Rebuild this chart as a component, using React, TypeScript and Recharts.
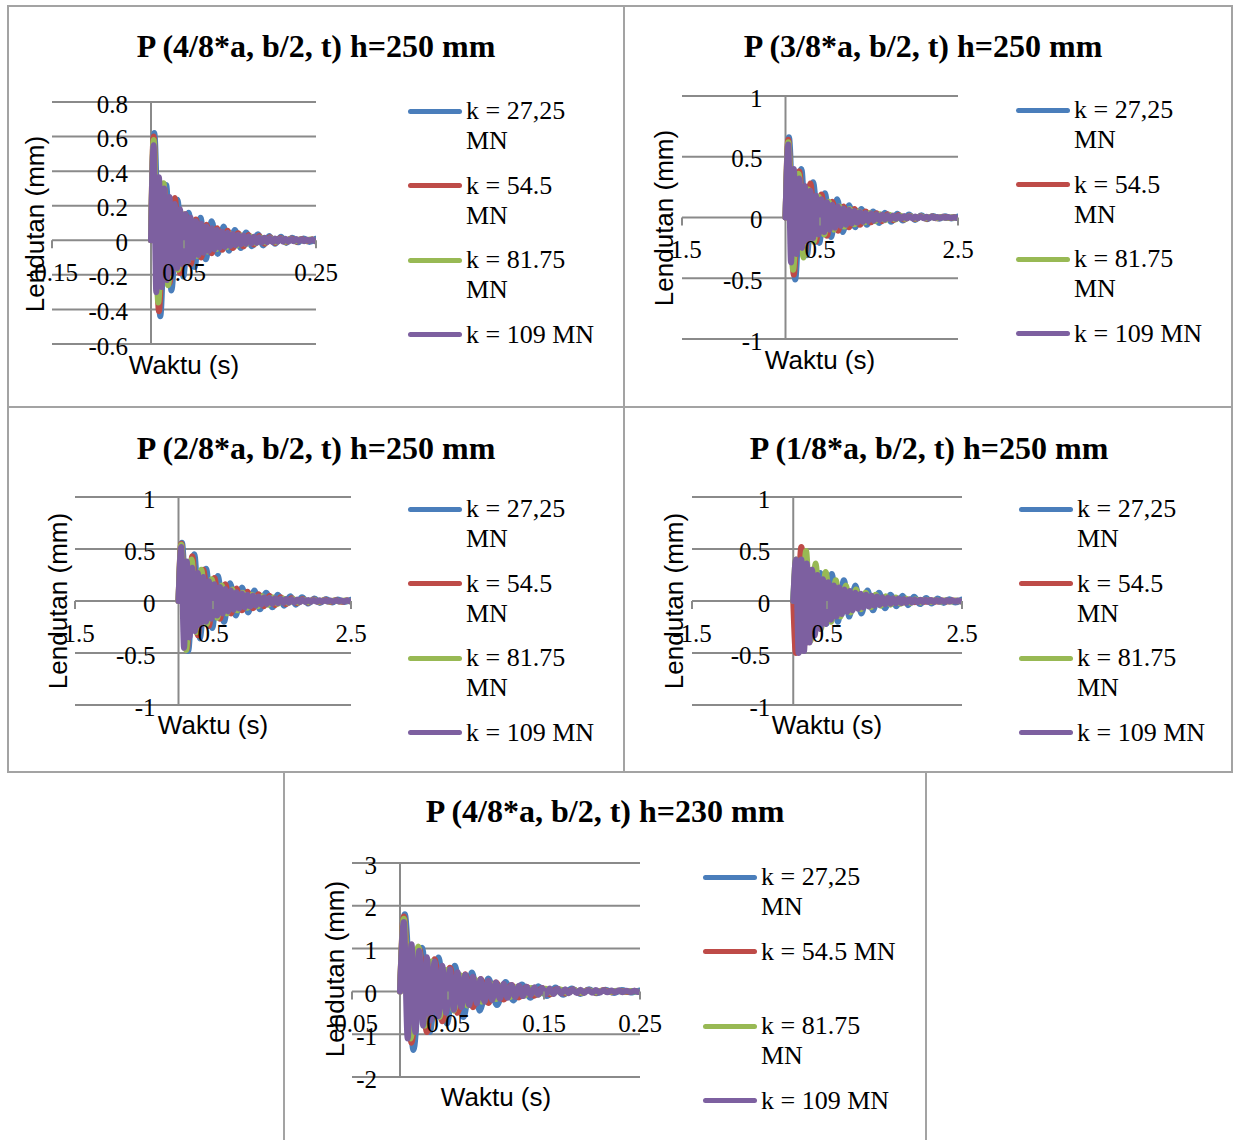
import { LineChart, Line, XAxis, YAxis, CartesianGrid, ReferenceLine } from "recharts";

const seriesNames = ["k = 27,25 MN", "k = 54.5 MN", "k = 81.75 MN", "k = 109 MN"];
const seriesColors = ["#4A7EBB", "#BE4B48", "#98B954", "#7D60A0"];

// times of the turning points, runs of 0 - 0.25 s
const tShortK1 = [0, 0.005, 0.014, 0.023, 0.031, 0.040, 0.049, 0.057, 0.066, 0.075, 0.083, 0.092, 0.101, 0.110, 0.118, 0.127, 0.136, 0.144, 0.153, 0.162, 0.170, 0.179, 0.188, 0.197, 0.205, 0.214, 0.223, 0.231, 0.240, 0.249];
const tShortK2 = [0, 0.004, 0.012, 0.020, 0.028, 0.036, 0.044, 0.052, 0.060, 0.068, 0.076, 0.084, 0.092, 0.100, 0.108, 0.116, 0.124, 0.132, 0.140, 0.148, 0.156, 0.164, 0.172, 0.180, 0.188, 0.196, 0.204, 0.212, 0.220, 0.228, 0.236, 0.244];
const tShortK3 = [0, 0.004, 0.011, 0.019, 0.026, 0.033, 0.041, 0.048, 0.056, 0.063, 0.070, 0.078, 0.085, 0.093, 0.100, 0.107, 0.115, 0.122, 0.130, 0.137, 0.144, 0.152, 0.159, 0.167, 0.174, 0.181, 0.189, 0.196, 0.204, 0.211, 0.218, 0.226, 0.233, 0.241, 0.248];
const tShortK4 = [0, 0.004, 0.008, 0.012, 0.016, 0.020, 0.024, 0.028, 0.032, 0.036, 0.040, 0.044, 0.048, 0.052, 0.056, 0.060, 0.064, 0.068, 0.072, 0.076, 0.080, 0.084, 0.088, 0.092, 0.096, 0.100, 0.104, 0.108, 0.112, 0.116, 0.120, 0.124, 0.128, 0.132, 0.136, 0.140, 0.144, 0.148, 0.152, 0.156, 0.160, 0.164, 0.168, 0.172, 0.176, 0.180, 0.184, 0.188, 0.192, 0.196, 0.200, 0.204, 0.208, 0.212, 0.216, 0.220, 0.224, 0.228, 0.232, 0.236, 0.240, 0.244, 0.248];

// times of the turning points, runs of 0 - 2.5 s
const tLongK1 = [0, 0.05, 0.14, 0.23, 0.31, 0.40, 0.49, 0.57, 0.66, 0.75, 0.83, 0.92, 1.01, 1.10, 1.18, 1.27, 1.36, 1.44, 1.53, 1.62, 1.70, 1.79, 1.88, 1.97, 2.05, 2.14, 2.23, 2.31, 2.40, 2.49];
const tLongK2 = [0, 0.04, 0.12, 0.20, 0.28, 0.36, 0.44, 0.52, 0.60, 0.68, 0.76, 0.84, 0.92, 1.00, 1.08, 1.16, 1.24, 1.32, 1.40, 1.48, 1.56, 1.64, 1.72, 1.80, 1.88, 1.96, 2.04, 2.12, 2.20, 2.28, 2.36, 2.44];
const tLongK3 = [0, 0.04, 0.11, 0.19, 0.26, 0.33, 0.41, 0.48, 0.56, 0.63, 0.70, 0.78, 0.85, 0.93, 1.00, 1.07, 1.15, 1.22, 1.30, 1.37, 1.44, 1.52, 1.59, 1.67, 1.74, 1.81, 1.89, 1.96, 2.04, 2.11, 2.18, 2.26, 2.33, 2.41, 2.48];
const tLongK4 = [0, 0.04, 0.08, 0.12, 0.16, 0.20, 0.24, 0.28, 0.32, 0.36, 0.40, 0.44, 0.48, 0.52, 0.56, 0.60, 0.64, 0.68, 0.72, 0.76, 0.80, 0.84, 0.88, 0.92, 0.96, 1.00, 1.04, 1.08, 1.12, 1.16, 1.20, 1.24, 1.28, 1.32, 1.36, 1.40, 1.44, 1.48, 1.52, 1.56, 1.60, 1.64, 1.68, 1.72, 1.76, 1.80, 1.84, 1.88, 1.92, 1.96, 2.00, 2.04, 2.08, 2.12, 2.16, 2.20, 2.24, 2.28, 2.32, 2.36, 2.40, 2.44, 2.48];

// deflection (mm) at those points
// P (4/8*a, b/2, t) h=250 mm
const p48K1 = [0, 0.62, -0.44, 0.32, -0.29, 0.235, -0.21, 0.16, -0.155, 0.13, -0.11, 0.11, -0.08, 0.08, -0.06, 0.06, -0.045, 0.045, -0.035, 0.035, -0.03, 0.025, -0.02, 0.02, -0.015, 0.015, -0.012, 0.01, -0.01, 0.008];
const p48K2 = [0, 0.6, -0.41, 0.3, -0.25, 0.245, -0.19, 0.15, -0.14, 0.12, -0.1, 0.09, -0.075, 0.07, -0.055, 0.055, -0.045, 0.04, -0.035, 0.03, -0.025, 0.025, -0.02, 0.018, -0.015, 0.013, -0.011, 0.01, -0.008, 0.008, -0.006, 0.005];
const p48K3 = [0, 0.58, -0.36, 0.33, -0.26, 0.18, -0.17, 0.15, -0.12, 0.11, -0.09, 0.08, -0.065, 0.06, -0.05, 0.045, -0.04, 0.035, -0.03, 0.027, -0.022, 0.02, -0.017, 0.015, -0.013, 0.012, -0.01, 0.009, -0.008, 0.007, -0.006, 0.005, -0.004, 0.004, -0.003];
const p48K4 = [0, 0.55, -0.3, 0.365, -0.27, 0.3, -0.23, 0.25, -0.19, 0.21, -0.16, 0.18, -0.14, 0.15, -0.12, 0.13, -0.1, 0.11, -0.085, 0.095, -0.072, 0.08, -0.062, 0.07, -0.053, 0.06, -0.045, 0.05, -0.039, 0.043, -0.033, 0.037, -0.028, 0.032, -0.024, 0.027, -0.021, 0.023, -0.018, 0.02, -0.015, 0.017, -0.013, 0.015, -0.011, 0.013, -0.01, 0.011, -0.009, 0.01, -0.008, 0.009, -0.007, 0.008, -0.006, 0.007, -0.005, 0.006, -0.005, 0.005, -0.004, 0.005, -0.004];

// P (3/8*a, b/2, t) h=250 mm
const p38K1 = [0, 0.66, -0.51, 0.4, -0.31, 0.29, -0.21, 0.2, -0.16, 0.15, -0.12, 0.1, -0.08, 0.07, -0.06, 0.05, -0.045, 0.04, -0.035, 0.03, -0.025, 0.025, -0.02, 0.018, -0.015, 0.013, -0.011, 0.01, -0.008, 0.007];
const p38K2 = [0, 0.64, -0.47, 0.38, -0.3, 0.28, -0.2, 0.19, -0.15, 0.13, -0.11, 0.09, -0.08, 0.07, -0.06, 0.05, -0.04, 0.035, -0.03, 0.027, -0.022, 0.02, -0.017, 0.015, -0.013, 0.011, -0.01, 0.008, -0.007, 0.006, -0.005, 0.004];
const p38K3 = [0, 0.62, -0.43, 0.36, -0.33, 0.23, -0.2, 0.17, -0.14, 0.13, -0.1, 0.09, -0.075, 0.07, -0.055, 0.05, -0.04, 0.037, -0.03, 0.027, -0.022, 0.02, -0.017, 0.015, -0.012, 0.011, -0.009, 0.008, -0.007, 0.006, -0.005, 0.004, -0.004, 0.003, -0.003];
const p38K4 = [0, 0.6, -0.37, 0.4, -0.3, 0.32, -0.25, 0.26, -0.2, 0.22, -0.17, 0.18, -0.14, 0.15, -0.12, 0.125, -0.1, 0.105, -0.085, 0.09, -0.07, 0.075, -0.06, 0.063, -0.05, 0.053, -0.042, 0.045, -0.036, 0.038, -0.03, 0.032, -0.026, 0.027, -0.022, 0.023, -0.018, 0.019, -0.015, 0.016, -0.013, 0.014, -0.011, 0.012, -0.009, 0.01, -0.008, 0.009, -0.007, 0.008, -0.006, 0.007, -0.005, 0.006, -0.004, 0.005, -0.004, 0.004, -0.003, 0.004, -0.003, 0.003, -0.003];

// P (2/8*a, b/2, t) h=250 mm
const p28K1 = [0, 0.56, -0.48, 0.45, -0.36, 0.31, -0.26, 0.24, -0.2, 0.17, -0.14, 0.13, -0.11, 0.1, -0.08, 0.08, -0.06, 0.06, -0.045, 0.045, -0.035, 0.035, -0.025, 0.025, -0.02, 0.02, -0.015, 0.015, -0.01, 0.01];
const p28K2 = [0, 0.55, -0.46, 0.43, -0.33, 0.3, -0.24, 0.22, -0.17, 0.16, -0.12, 0.12, -0.09, 0.09, -0.07, 0.065, -0.05, 0.05, -0.04, 0.035, -0.03, 0.027, -0.022, 0.02, -0.017, 0.015, -0.012, 0.011, -0.009, 0.008, -0.007, 0.006];
const p28K3 = [0, 0.54, -0.47, 0.4, -0.3, 0.3, -0.22, 0.21, -0.16, 0.15, -0.12, 0.11, -0.09, 0.08, -0.065, 0.06, -0.05, 0.045, -0.037, 0.033, -0.027, 0.025, -0.02, 0.018, -0.015, 0.013, -0.011, 0.01, -0.008, 0.007, -0.006, 0.005, -0.004, 0.004, -0.003];
const p28K4 = [0, 0.52, -0.45, 0.38, -0.35, 0.32, -0.29, 0.27, -0.24, 0.23, -0.2, 0.19, -0.17, 0.16, -0.14, 0.135, -0.12, 0.115, -0.1, 0.1, -0.085, 0.085, -0.072, 0.072, -0.061, 0.061, -0.052, 0.052, -0.044, 0.044, -0.037, 0.037, -0.031, 0.031, -0.026, 0.026, -0.022, 0.022, -0.019, 0.019, -0.016, 0.016, -0.014, 0.014, -0.012, 0.012, -0.01, 0.01, -0.009, 0.009, -0.008, 0.008, -0.007, 0.007, -0.006, 0.006, -0.005, 0.005, -0.004, 0.004, -0.004, 0.004, -0.003];

// P (1/8*a, b/2, t) h=250 mm
const p18K1 = [0, 0.38, -0.35, 0.3, -0.28, 0.27, -0.22, 0.26, -0.2, 0.2, -0.15, 0.15, -0.12, 0.1, -0.09, 0.08, -0.07, 0.06, -0.05, 0.05, -0.04, 0.04, -0.03, 0.03, -0.025, 0.025, -0.02, 0.018, -0.015, 0.012];
const p18K2 = [0, -0.5, 0.52, -0.4, 0.3, -0.25, 0.2, -0.17, 0.14, -0.12, 0.1, -0.08, 0.07, -0.055, 0.05, -0.04, 0.035, -0.03, 0.025, -0.02, 0.018, -0.015, 0.013, -0.011, 0.01, -0.008, 0.007, -0.006, 0.005, -0.004, 0.004, -0.003];
const p18K3 = [0, 0.4, -0.45, 0.48, -0.38, 0.36, -0.27, 0.28, -0.2, 0.2, -0.15, 0.15, -0.11, 0.11, -0.08, 0.08, -0.06, 0.06, -0.045, 0.045, -0.035, 0.033, -0.026, 0.025, -0.02, 0.018, -0.015, 0.013, -0.011, 0.01, -0.008, 0.007, -0.006, 0.005, -0.004];
const p18K4 = [0, 0.4, -0.5, 0.4, -0.48, 0.36, -0.4, 0.3, -0.33, 0.25, -0.27, 0.21, -0.22, 0.18, -0.18, 0.15, -0.15, 0.13, -0.125, 0.11, -0.105, 0.095, -0.09, 0.08, -0.075, 0.07, -0.063, 0.06, -0.053, 0.05, -0.045, 0.043, -0.038, 0.037, -0.032, 0.032, -0.027, 0.027, -0.023, 0.023, -0.02, 0.02, -0.017, 0.017, -0.015, 0.015, -0.013, 0.013, -0.011, 0.011, -0.01, 0.01, -0.009, 0.009, -0.008, 0.008, -0.007, 0.007, -0.006, 0.006, -0.005, 0.005, -0.004];

// P (4/8*a, b/2, t) h=230 mm
const h230K1 = [0, 1.8, -1.37, 1.02, -0.95, 0.79, -0.75, 0.6, -0.6, 0.44, -0.45, 0.3, -0.32, 0.22, -0.21, 0.16, -0.15, 0.12, -0.11, 0.09, -0.08, 0.07, -0.06, 0.05, -0.045, 0.04, -0.035, 0.03, -0.025, 0.02];
const h230K2 = [0, 1.75, -1.2, 1.0, -0.95, 0.75, -0.7, 0.55, -0.5, 0.4, -0.37, 0.29, -0.27, 0.21, -0.19, 0.15, -0.14, 0.11, -0.1, 0.08, -0.07, 0.06, -0.05, 0.045, -0.04, 0.033, -0.03, 0.025, -0.02, 0.018, -0.015, 0.013];
const h230K3 = [0, 1.7, -1.1, 1.05, -0.8, 0.7, -0.6, 0.5, -0.45, 0.38, -0.33, 0.28, -0.24, 0.2, -0.18, 0.15, -0.13, 0.11, -0.1, 0.08, -0.07, 0.06, -0.05, 0.045, -0.04, 0.033, -0.03, 0.025, -0.02, 0.018, -0.015, 0.013, -0.01, 0.01, -0.008];
const h230K4 = [0, 1.62, -1.1, 1.1, -0.95, 0.95, -0.8, 0.8, -0.68, 0.7, -0.58, 0.6, -0.5, 0.52, -0.43, 0.45, -0.37, 0.39, -0.32, 0.34, -0.28, 0.29, -0.24, 0.25, -0.2, 0.21, -0.17, 0.18, -0.15, 0.15, -0.13, 0.13, -0.11, 0.11, -0.095, 0.095, -0.08, 0.08, -0.07, 0.07, -0.06, 0.06, -0.05, 0.05, -0.045, 0.045, -0.04, 0.04, -0.035, 0.035, -0.03, 0.03, -0.026, 0.026, -0.022, 0.022, -0.019, 0.02, -0.017, 0.017, -0.015, 0.015, -0.013];

const shortTicks250 = [-0.15, 0.05, 0.25];
const longTicks = [-1.5, 0.5, 2.5];
const shortTicks230 = [-0.05, 0.05, 0.15, 0.25];
const yTicks250a = [-0.6, -0.4, -0.2, 0, 0.2, 0.4, 0.6, 0.8];
const yTicksUnit = [-1, -0.5, 0, 0.5, 1];
const yTicks230 = [-2, -1, 0, 1, 2, 3];

const SERIF = '"Liberation Serif", "Times New Roman", serif';
const SANS = '"Liberation Sans", Arial, sans-serif';
const GRID = "#8a8a8a";
const BORDER = "#a3a3a3";

const toPoints = (ts: number[], ys: number[]) => ts.map((t, i) => ({ t, y: ys[i] }));

const shortTimes = [tShortK1, tShortK2, tShortK3, tShortK4];
const longTimes = [tLongK1, tLongK2, tLongK3, tLongK4];

const panels = [
  {
    title: "P (4/8*a, b/2, t) h=250 mm",
    box: { left: 7, top: 5, width: 618, height: 403 },
    plot: { left: 52, top: 102, width: 264, height: 242 },
    xDomain: [-0.15, 0.25], xTicks: shortTicks250, yDomain: [-0.6, 0.8], yTicks: yTicks250a,
    times: shortTimes, values: [p48K1, p48K2, p48K3, p48K4],
    titlePos: [316, 46], yTitle: [35, 224], xTitle: [184, 365], legend: [408, 96], legendText: 131,
  },
  {
    title: "P (3/8*a, b/2, t) h=250 mm",
    box: { left: 623, top: 5, width: 610, height: 403 },
    plot: { left: 682, top: 96, width: 276, height: 243 },
    xDomain: [-1.5, 2.5], xTicks: longTicks, yDomain: [-1, 1], yTicks: yTicksUnit,
    times: longTimes, values: [p38K1, p38K2, p38K3, p38K4],
    titlePos: [923, 46], yTitle: [664, 218], xTitle: [820, 360], legend: [1016, 95], legendText: 131,
  },
  {
    title: "P (2/8*a, b/2, t) h=250 mm",
    box: { left: 7, top: 406, width: 618, height: 367 },
    plot: { left: 75, top: 497, width: 276, height: 208 },
    xDomain: [-1.5, 2.5], xTicks: longTicks, yDomain: [-1, 1], yTicks: yTicksUnit,
    times: longTimes, values: [p28K1, p28K2, p28K3, p28K4],
    titlePos: [316, 448], yTitle: [58, 601], xTitle: [213, 725], legend: [408, 494], legendText: 131,
  },
  {
    title: "P (1/8*a, b/2, t) h=250 mm",
    box: { left: 623, top: 406, width: 610, height: 367 },
    plot: { left: 692, top: 497, width: 270, height: 208 },
    xDomain: [-1.5, 2.5], xTicks: longTicks, yDomain: [-1, 1], yTicks: yTicksUnit,
    times: longTimes, values: [p18K1, p18K2, p18K3, p18K4],
    titlePos: [929, 448], yTitle: [674, 601], xTitle: [827, 725], legend: [1019, 494], legendText: 131,
  },
  {
    title: "P (4/8*a, b/2, t) h=230 mm",
    box: { left: 283, top: 771, width: 644, height: 372 },
    plot: { left: 352, top: 863, width: 288, height: 214 },
    xDomain: [-0.05, 0.25], xTicks: shortTicks230, yDomain: [-2, 3], yTicks: yTicks230,
    times: shortTimes, values: [h230K1, h230K2, h230K3, h230K4],
    titlePos: [605, 811], yTitle: [335, 969], xTitle: [496, 1097], legend: [703, 862], legendText: 141,
  },
];

// plot area sits at (PAD_L, PAD_T) inside each chart; the axes take 1px each
const PAD_L = 70;
const PAD_T = 20;
const M = { top: PAD_T, right: 40, bottom: 49, left: PAD_L - 1 };

function Panel({ p }: { p: (typeof panels)[number] }) {
  const [x0, x1] = p.xDomain;
  const [y0, y1] = p.yDomain;
  const zeroX = PAD_L + ((0 - x0) / (x1 - x0)) * p.plot.width;
  const zeroY = PAD_T + ((y1 - 0) / (y1 - y0)) * p.plot.height;

  const yTick = (props: any) => (
    <text x={zeroX - 23} y={props.y} dy={2} textAnchor="end" dominantBaseline="central"
      fontFamily={SERIF} fontSize={25} fill="#000">
      {String(props.payload.value)}
    </text>
  );
  const xTick = (props: any) => (
    <g>
      <line x1={props.x} x2={props.x} y1={zeroY} y2={zeroY + 8} stroke={GRID} strokeWidth={2} />
      <text x={props.x} y={zeroY + 32} textAnchor="middle" dominantBaseline="central"
        fontFamily={SERIF} fontSize={25} fill="#000">
        {String(props.payload.value)}
      </text>
    </g>
  );

  return (
    <>
      <div style={{ position: "absolute", ...p.box, border: `2px solid ${BORDER}`, boxSizing: "border-box",
        borderBottom: p.box.top + p.box.height > 1140 ? "none" : `2px solid ${BORDER}` }} />
      <div style={{ position: "absolute", left: p.plot.left - PAD_L, top: p.plot.top - PAD_T }}>
        <LineChart width={p.plot.width + PAD_L + M.right} height={p.plot.height + PAD_T + M.bottom + 1} margin={M}>
          <CartesianGrid vertical={false} stroke={GRID} strokeWidth={2} />
          <XAxis type="number" dataKey="t" domain={p.xDomain} ticks={p.xTicks} interval={0}
            height={1} axisLine={false} tickLine={false} tick={xTick} allowDataOverflow />
          <YAxis type="number" domain={p.yDomain} ticks={p.yTicks} interval={0}
            width={1} axisLine={false} tickLine={false} tick={yTick} allowDataOverflow />
          <ReferenceLine x={0} stroke={GRID} strokeWidth={2} />
          {p.values.map((vals, i) => (
            <Line key={i} data={toPoints(p.times[i], vals)} dataKey="y" name={seriesNames[i]}
              type="monotone" stroke={seriesColors[i]} strokeWidth={6} dot={false}
              strokeLinecap="round" strokeLinejoin="round" isAnimationActive={false} />
          ))}
        </LineChart>
      </div>
      <div style={{ position: "absolute", left: p.titlePos[0] - 320, top: p.titlePos[1] - 20, width: 640,
        textAlign: "center", fontFamily: SERIF, fontWeight: "bold", fontSize: 32, lineHeight: "40px" }}>
        {p.title}
      </div>
      <div style={{ position: "absolute", left: p.yTitle[0], top: p.yTitle[1], whiteSpace: "nowrap",
        transform: "translate(-50%, -50%) rotate(-90deg)", fontFamily: SANS, fontSize: 26, lineHeight: "30px" }}>
        Lendutan (mm)
      </div>
      <div style={{ position: "absolute", left: p.xTitle[0], top: p.xTitle[1], whiteSpace: "nowrap",
        transform: "translate(-50%, -50%)", fontFamily: SANS, fontSize: 26, lineHeight: "30px" }}>
        Waktu (s)
      </div>
      <div style={{ position: "absolute", left: p.legend[0], top: p.legend[1] }}>
        {seriesNames.map((name, i) => (
          <div key={name} style={{ position: "relative", height: 74.5 }}>
            <div style={{ position: "absolute", left: 0, top: 12.5, width: 54, height: 5, borderRadius: 2.5,
              background: seriesColors[i] }} />
            <div style={{ position: "absolute", left: 58, top: 0, width: p.legendText, fontFamily: SERIF,
              fontSize: 26, lineHeight: "30px" }}>
              {name}
            </div>
          </div>
        ))}
      </div>
    </>
  );
}

export default function App() {
  return (
    <div style={{ position: "absolute", left: 0, top: 0, width: 1233, height: 1140, overflow: "hidden", background: "#fff" }}>
      {panels.map((p) => (
        <Panel key={p.title} p={p} />
      ))}
    </div>
  );
}
